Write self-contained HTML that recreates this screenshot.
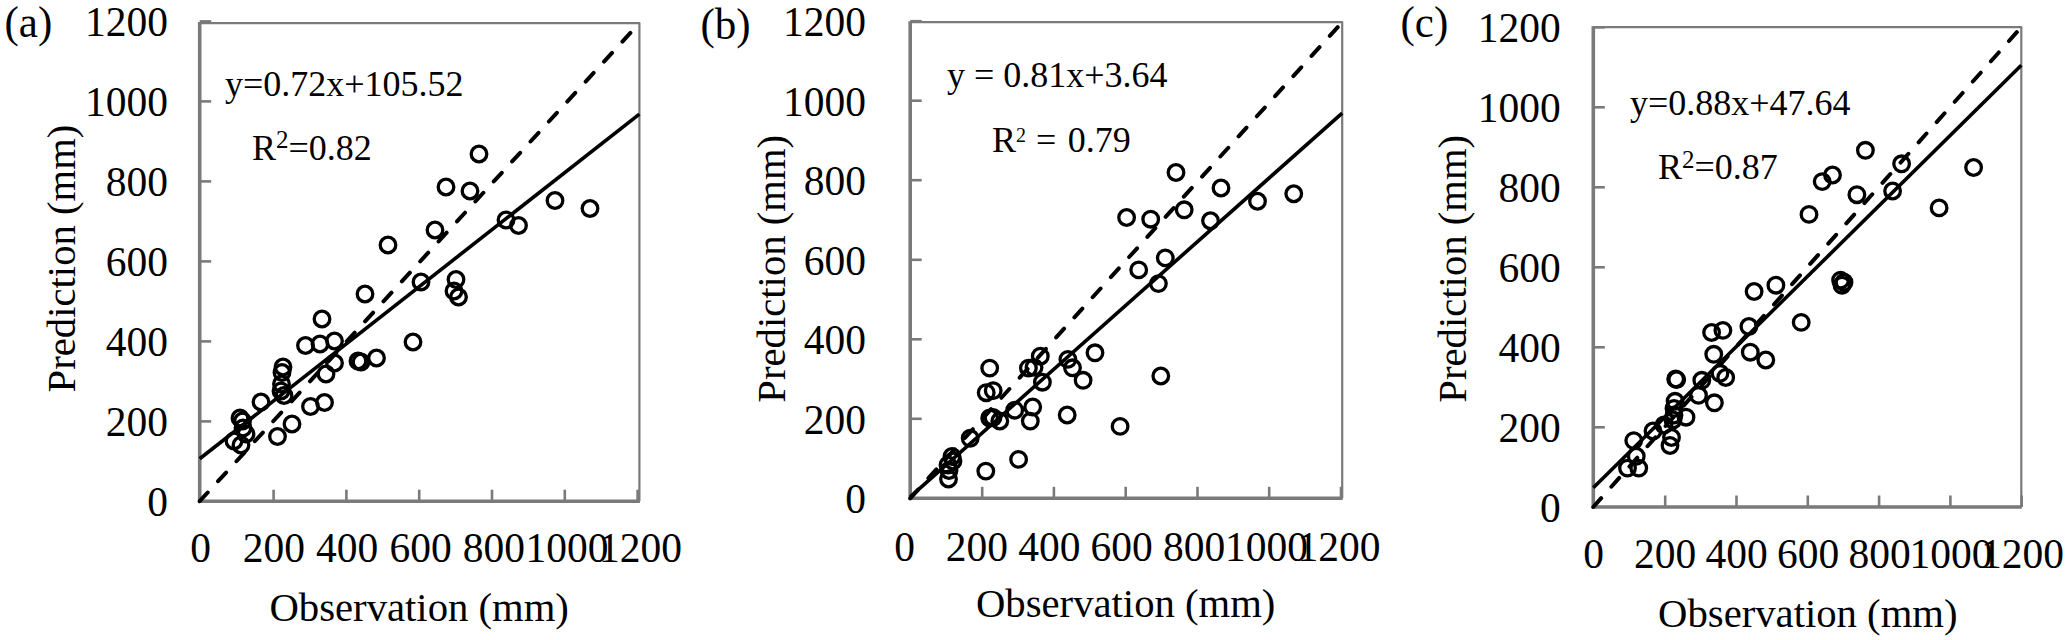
<!DOCTYPE html><html><head><meta charset="utf-8"><style>html,body{margin:0;padding:0;background:#fff;}svg{display:block;}text{font-family:"Liberation Serif",serif;fill:#000;}</style></head><body>
<svg width="2067" height="640" viewBox="0 0 2067 640">
<rect width="2067" height="640" fill="#fff"/>
<g><path d="M199.7 23.1H639.4V501.2" fill="none" stroke="#7a7a7a" stroke-width="2.2" stroke-linejoin="round"/><line x1="199.7" y1="421.4" x2="211.2" y2="421.4" stroke="#7a7a7a" stroke-width="2.6"/><line x1="273.6" y1="501.2" x2="273.6" y2="489.7" stroke="#7a7a7a" stroke-width="2.6"/><line x1="199.7" y1="341.4" x2="211.2" y2="341.4" stroke="#7a7a7a" stroke-width="2.6"/><line x1="346.4" y1="501.2" x2="346.4" y2="489.7" stroke="#7a7a7a" stroke-width="2.6"/><line x1="199.7" y1="261.4" x2="211.2" y2="261.4" stroke="#7a7a7a" stroke-width="2.6"/><line x1="419.2" y1="501.2" x2="419.2" y2="489.7" stroke="#7a7a7a" stroke-width="2.6"/><line x1="199.7" y1="181.4" x2="211.2" y2="181.4" stroke="#7a7a7a" stroke-width="2.6"/><line x1="492.0" y1="501.2" x2="492.0" y2="489.7" stroke="#7a7a7a" stroke-width="2.6"/><line x1="199.7" y1="101.4" x2="211.2" y2="101.4" stroke="#7a7a7a" stroke-width="2.6"/><line x1="564.8" y1="501.2" x2="564.8" y2="489.7" stroke="#7a7a7a" stroke-width="2.6"/><line x1="199.7" y1="21.4" x2="211.2" y2="21.4" stroke="#7a7a7a" stroke-width="2.6"/><line x1="637.6" y1="501.2" x2="637.6" y2="489.7" stroke="#7a7a7a" stroke-width="2.6"/><path d="M199.7 22.1V501.2H639.9" fill="none" stroke="#7a7a7a" stroke-width="3.6"/><line x1="199.7" y1="501.2" x2="639.4" y2="23.1" stroke="#000" stroke-width="4" stroke-dasharray="11.8 15.35" stroke-linecap="round"/><line x1="199.7" y1="458.75" x2="639.4" y2="114.1" stroke="#000" stroke-width="3.6"/><circle cx="555" cy="200.5" r="7.8" fill="none" stroke="#000" stroke-width="3.3"/><circle cx="590" cy="208.5" r="7.8" fill="none" stroke="#000" stroke-width="3.3"/><circle cx="479" cy="154" r="7.8" fill="none" stroke="#000" stroke-width="3.3"/><circle cx="446" cy="187" r="7.8" fill="none" stroke="#000" stroke-width="3.3"/><circle cx="470" cy="191" r="7.8" fill="none" stroke="#000" stroke-width="3.3"/><circle cx="435" cy="230" r="7.8" fill="none" stroke="#000" stroke-width="3.3"/><circle cx="506" cy="220" r="7.8" fill="none" stroke="#000" stroke-width="3.3"/><circle cx="518.5" cy="225.5" r="7.8" fill="none" stroke="#000" stroke-width="3.3"/><circle cx="388" cy="245" r="7.8" fill="none" stroke="#000" stroke-width="3.3"/><circle cx="365" cy="294" r="7.8" fill="none" stroke="#000" stroke-width="3.3"/><circle cx="421" cy="282" r="7.8" fill="none" stroke="#000" stroke-width="3.3"/><circle cx="456" cy="279.5" r="7.8" fill="none" stroke="#000" stroke-width="3.3"/><circle cx="454" cy="291" r="7.8" fill="none" stroke="#000" stroke-width="3.3"/><circle cx="458.5" cy="297" r="7.8" fill="none" stroke="#000" stroke-width="3.3"/><circle cx="413" cy="342" r="7.8" fill="none" stroke="#000" stroke-width="3.3"/><circle cx="376.5" cy="358" r="7.8" fill="none" stroke="#000" stroke-width="3.3"/><circle cx="358" cy="361" r="7.8" fill="none" stroke="#000" stroke-width="3.3"/><circle cx="361" cy="362" r="7.8" fill="none" stroke="#000" stroke-width="3.3"/><circle cx="334.5" cy="363" r="7.8" fill="none" stroke="#000" stroke-width="3.3"/><circle cx="326" cy="374" r="7.8" fill="none" stroke="#000" stroke-width="3.3"/><circle cx="322" cy="319" r="7.8" fill="none" stroke="#000" stroke-width="3.3"/><circle cx="305.5" cy="345.5" r="7.8" fill="none" stroke="#000" stroke-width="3.3"/><circle cx="320" cy="344" r="7.8" fill="none" stroke="#000" stroke-width="3.3"/><circle cx="334.5" cy="341" r="7.8" fill="none" stroke="#000" stroke-width="3.3"/><circle cx="261" cy="402" r="7.8" fill="none" stroke="#000" stroke-width="3.3"/><circle cx="283" cy="367" r="7.8" fill="none" stroke="#000" stroke-width="3.3"/><circle cx="282" cy="372.5" r="7.8" fill="none" stroke="#000" stroke-width="3.3"/><circle cx="281.5" cy="384" r="7.8" fill="none" stroke="#000" stroke-width="3.3"/><circle cx="281" cy="391" r="7.8" fill="none" stroke="#000" stroke-width="3.3"/><circle cx="284" cy="395.5" r="7.8" fill="none" stroke="#000" stroke-width="3.3"/><circle cx="240" cy="418" r="7.8" fill="none" stroke="#000" stroke-width="3.3"/><circle cx="242.5" cy="421" r="7.8" fill="none" stroke="#000" stroke-width="3.3"/><circle cx="243" cy="428" r="7.8" fill="none" stroke="#000" stroke-width="3.3"/><circle cx="246" cy="434" r="7.8" fill="none" stroke="#000" stroke-width="3.3"/><circle cx="234" cy="441" r="7.8" fill="none" stroke="#000" stroke-width="3.3"/><circle cx="241" cy="445" r="7.8" fill="none" stroke="#000" stroke-width="3.3"/><circle cx="277.5" cy="436.5" r="7.8" fill="none" stroke="#000" stroke-width="3.3"/><circle cx="292" cy="424" r="7.8" fill="none" stroke="#000" stroke-width="3.3"/><circle cx="310.5" cy="406.5" r="7.8" fill="none" stroke="#000" stroke-width="3.3"/><circle cx="324.5" cy="402.5" r="7.8" fill="none" stroke="#000" stroke-width="3.3"/><text transform="translate(168.0,516.4) scale(1.0,1.035)" font-size="41.5" text-anchor="end">0</text><text transform="translate(168.0,436.4) scale(1.0,1.035)" font-size="41.5" text-anchor="end">200</text><text transform="translate(168.0,356.4) scale(1.0,1.035)" font-size="41.5" text-anchor="end">400</text><text transform="translate(168.0,276.4) scale(1.0,1.035)" font-size="41.5" text-anchor="end">600</text><text transform="translate(168.0,196.4) scale(1.0,1.035)" font-size="41.5" text-anchor="end">800</text><text transform="translate(168.0,116.4) scale(1.0,1.035)" font-size="41.5" text-anchor="end">1000</text><text transform="translate(168.0,36.4) scale(1.0,1.035)" font-size="41.5" text-anchor="end">1200</text><text transform="translate(200.6,562.2) scale(1.0,1.035)" font-size="41.5" text-anchor="middle">0</text><text transform="translate(273.9,562.2) scale(1.0,1.035)" font-size="41.5" text-anchor="middle">200</text><text transform="translate(347.2,562.2) scale(1.0,1.035)" font-size="41.5" text-anchor="middle">400</text><text transform="translate(420.5,562.2) scale(1.0,1.035)" font-size="41.5" text-anchor="middle">600</text><text transform="translate(493.8,562.2) scale(1.0,1.035)" font-size="41.5" text-anchor="middle">800</text><text transform="translate(567.1,562.2) scale(1.0,1.035)" font-size="41.5" text-anchor="middle">1000</text><text transform="translate(640.4,562.2) scale(1.0,1.035)" font-size="41.5" text-anchor="middle">1200</text><text transform="translate(4.5,36.5) scale(1.0,1.03)" font-size="43">(a)</text><text transform="translate(75,258.5) rotate(-90)" font-size="40.7" text-anchor="middle">Prediction (mm)</text><text transform="translate(419.2,620.5) scale(1.0,1.0)" font-size="40.7" text-anchor="middle">Observation (mm)</text><text transform="translate(225.0,96.3) scale(1.0,1.0)" font-size="36">y=0.72x+105.52</text><text transform="translate(252.0,159.7) scale(1.0,1.0)" font-size="36">R<tspan font-size="25" dy="-11.6">2</tspan><tspan dy="11.6">=</tspan>0.82</text></g>
<g><path d="M910.2 22.2H1342.2V498.3" fill="none" stroke="#7a7a7a" stroke-width="2.2" stroke-linejoin="round"/><line x1="910.2" y1="418.8" x2="921.7" y2="418.8" stroke="#7a7a7a" stroke-width="2.6"/><line x1="982.2" y1="498.3" x2="982.2" y2="486.8" stroke="#7a7a7a" stroke-width="2.6"/><line x1="910.2" y1="339.3" x2="921.7" y2="339.3" stroke="#7a7a7a" stroke-width="2.6"/><line x1="1053.9" y1="498.3" x2="1053.9" y2="486.8" stroke="#7a7a7a" stroke-width="2.6"/><line x1="910.2" y1="259.8" x2="921.7" y2="259.8" stroke="#7a7a7a" stroke-width="2.6"/><line x1="1125.7" y1="498.3" x2="1125.7" y2="486.8" stroke="#7a7a7a" stroke-width="2.6"/><line x1="910.2" y1="180.2" x2="921.7" y2="180.2" stroke="#7a7a7a" stroke-width="2.6"/><line x1="1197.5" y1="498.3" x2="1197.5" y2="486.8" stroke="#7a7a7a" stroke-width="2.6"/><line x1="910.2" y1="100.7" x2="921.7" y2="100.7" stroke="#7a7a7a" stroke-width="2.6"/><line x1="1269.2" y1="498.3" x2="1269.2" y2="486.8" stroke="#7a7a7a" stroke-width="2.6"/><line x1="910.2" y1="21.2" x2="921.7" y2="21.2" stroke="#7a7a7a" stroke-width="2.6"/><line x1="1341.0" y1="498.3" x2="1341.0" y2="486.8" stroke="#7a7a7a" stroke-width="2.6"/><path d="M910.2 21.2V498.3H1342.7" fill="none" stroke="#7a7a7a" stroke-width="3.6"/><line x1="910.2" y1="498.3" x2="1342.2" y2="22.2" stroke="#000" stroke-width="4" stroke-dasharray="11.8 15.35" stroke-linecap="round"/><line x1="910.2" y1="496.9" x2="1342.2" y2="113.1" stroke="#000" stroke-width="3.6"/><circle cx="1176" cy="172.5" r="7.8" fill="none" stroke="#000" stroke-width="3.3"/><circle cx="1221" cy="188" r="7.8" fill="none" stroke="#000" stroke-width="3.3"/><circle cx="1293.75" cy="193.75" r="7.8" fill="none" stroke="#000" stroke-width="3.3"/><circle cx="1257.5" cy="201.25" r="7.8" fill="none" stroke="#000" stroke-width="3.3"/><circle cx="1126.6" cy="217.5" r="7.8" fill="none" stroke="#000" stroke-width="3.3"/><circle cx="1150.7" cy="219.2" r="7.8" fill="none" stroke="#000" stroke-width="3.3"/><circle cx="1184.2" cy="209.8" r="7.8" fill="none" stroke="#000" stroke-width="3.3"/><circle cx="1210.5" cy="220.75" r="7.8" fill="none" stroke="#000" stroke-width="3.3"/><circle cx="1165.3" cy="257.9" r="7.8" fill="none" stroke="#000" stroke-width="3.3"/><circle cx="1138.7" cy="269.9" r="7.8" fill="none" stroke="#000" stroke-width="3.3"/><circle cx="1158.4" cy="283.6" r="7.8" fill="none" stroke="#000" stroke-width="3.3"/><circle cx="1095" cy="352.8" r="7.8" fill="none" stroke="#000" stroke-width="3.3"/><circle cx="1067.9" cy="359.4" r="7.8" fill="none" stroke="#000" stroke-width="3.3"/><circle cx="1072.5" cy="367.8" r="7.8" fill="none" stroke="#000" stroke-width="3.3"/><circle cx="1083.1" cy="380.3" r="7.8" fill="none" stroke="#000" stroke-width="3.3"/><circle cx="1040.3" cy="356.2" r="7.8" fill="none" stroke="#000" stroke-width="3.3"/><circle cx="1028.4" cy="368.1" r="7.8" fill="none" stroke="#000" stroke-width="3.3"/><circle cx="1034" cy="367.4" r="7.8" fill="none" stroke="#000" stroke-width="3.3"/><circle cx="1042.4" cy="382.2" r="7.8" fill="none" stroke="#000" stroke-width="3.3"/><circle cx="989.7" cy="368.1" r="7.8" fill="none" stroke="#000" stroke-width="3.3"/><circle cx="986.2" cy="392.7" r="7.8" fill="none" stroke="#000" stroke-width="3.3"/><circle cx="993.2" cy="390.6" r="7.8" fill="none" stroke="#000" stroke-width="3.3"/><circle cx="1160.8" cy="376" r="7.8" fill="none" stroke="#000" stroke-width="3.3"/><circle cx="989.7" cy="418" r="7.8" fill="none" stroke="#000" stroke-width="3.3"/><circle cx="999.8" cy="421" r="7.8" fill="none" stroke="#000" stroke-width="3.3"/><circle cx="1014.7" cy="410.2" r="7.8" fill="none" stroke="#000" stroke-width="3.3"/><circle cx="1032.7" cy="407" r="7.8" fill="none" stroke="#000" stroke-width="3.3"/><circle cx="1030.3" cy="421.1" r="7.8" fill="none" stroke="#000" stroke-width="3.3"/><circle cx="1067.2" cy="415" r="7.8" fill="none" stroke="#000" stroke-width="3.3"/><circle cx="1120.1" cy="426.4" r="7.8" fill="none" stroke="#000" stroke-width="3.3"/><circle cx="970.2" cy="438.3" r="7.8" fill="none" stroke="#000" stroke-width="3.3"/><circle cx="952" cy="456.5" r="7.8" fill="none" stroke="#000" stroke-width="3.3"/><circle cx="953" cy="461" r="7.8" fill="none" stroke="#000" stroke-width="3.3"/><circle cx="948" cy="465" r="7.8" fill="none" stroke="#000" stroke-width="3.3"/><circle cx="949" cy="470.5" r="7.8" fill="none" stroke="#000" stroke-width="3.3"/><circle cx="948.5" cy="479" r="7.8" fill="none" stroke="#000" stroke-width="3.3"/><circle cx="993" cy="417.5" r="7.8" fill="none" stroke="#000" stroke-width="3.3"/><circle cx="985.8" cy="471.1" r="7.8" fill="none" stroke="#000" stroke-width="3.3"/><circle cx="1018.6" cy="459.4" r="7.8" fill="none" stroke="#000" stroke-width="3.3"/><text transform="translate(866.0,513.3) scale(1.0,1.035)" font-size="41.5" text-anchor="end">0</text><text transform="translate(866.0,433.8) scale(1.0,1.035)" font-size="41.5" text-anchor="end">200</text><text transform="translate(866.0,354.3) scale(1.0,1.035)" font-size="41.5" text-anchor="end">400</text><text transform="translate(866.0,274.8) scale(1.0,1.035)" font-size="41.5" text-anchor="end">600</text><text transform="translate(866.0,195.2) scale(1.0,1.035)" font-size="41.5" text-anchor="end">800</text><text transform="translate(866.0,115.7) scale(1.0,1.035)" font-size="41.5" text-anchor="end">1000</text><text transform="translate(866.0,36.2) scale(1.0,1.035)" font-size="41.5" text-anchor="end">1200</text><text transform="translate(904.5,561.0) scale(1.0,1.035)" font-size="41.5" text-anchor="middle">0</text><text transform="translate(976.9,561.0) scale(1.0,1.035)" font-size="41.5" text-anchor="middle">200</text><text transform="translate(1049.3,561.0) scale(1.0,1.035)" font-size="41.5" text-anchor="middle">400</text><text transform="translate(1121.7,561.0) scale(1.0,1.035)" font-size="41.5" text-anchor="middle">600</text><text transform="translate(1194.1,561.0) scale(1.0,1.035)" font-size="41.5" text-anchor="middle">800</text><text transform="translate(1266.5,561.0) scale(1.0,1.035)" font-size="41.5" text-anchor="middle">1000</text><text transform="translate(1338.9,561.0) scale(1.0,1.035)" font-size="41.5" text-anchor="middle">1200</text><text transform="translate(700.5,38.5) scale(1.0,1.03)" font-size="43">(b)</text><text transform="translate(785.3,268.75) rotate(-90)" font-size="40.7" text-anchor="middle">Prediction (mm)</text><text transform="translate(1125.7,616.5) scale(1.0,1.0)" font-size="40.7" text-anchor="middle">Observation (mm)</text><text transform="translate(947.0,87.3) scale(1.0,1.0)" font-size="36">y = 0.81x+3.64</text><text transform="translate(992.0,151.6) scale(1.0,1.0)" font-size="36">R<tspan font-size="20" dy="-9.8">2</tspan><tspan dy="9.8" dx="1"> = </tspan><tspan dx="2.5">0.79</tspan></text></g>
<g><path d="M1593.3 27.2H2021.3V507.0" fill="none" stroke="#7a7a7a" stroke-width="2.2" stroke-linejoin="round"/><line x1="1593.3" y1="427.3" x2="1604.8" y2="427.3" stroke="#7a7a7a" stroke-width="2.6"/><line x1="1665.2" y1="507.0" x2="1665.2" y2="495.5" stroke="#7a7a7a" stroke-width="2.6"/><line x1="1593.3" y1="347.3" x2="1604.8" y2="347.3" stroke="#7a7a7a" stroke-width="2.6"/><line x1="1736.5" y1="507.0" x2="1736.5" y2="495.5" stroke="#7a7a7a" stroke-width="2.6"/><line x1="1593.3" y1="267.3" x2="1604.8" y2="267.3" stroke="#7a7a7a" stroke-width="2.6"/><line x1="1807.8" y1="507.0" x2="1807.8" y2="495.5" stroke="#7a7a7a" stroke-width="2.6"/><line x1="1593.3" y1="187.3" x2="1604.8" y2="187.3" stroke="#7a7a7a" stroke-width="2.6"/><line x1="1879.1" y1="507.0" x2="1879.1" y2="495.5" stroke="#7a7a7a" stroke-width="2.6"/><line x1="1593.3" y1="107.3" x2="1604.8" y2="107.3" stroke="#7a7a7a" stroke-width="2.6"/><line x1="1950.4" y1="507.0" x2="1950.4" y2="495.5" stroke="#7a7a7a" stroke-width="2.6"/><line x1="1593.3" y1="27.3" x2="1604.8" y2="27.3" stroke="#7a7a7a" stroke-width="2.6"/><line x1="2021.7" y1="507.0" x2="2021.7" y2="495.5" stroke="#7a7a7a" stroke-width="2.6"/><path d="M1593.3 26.2V507.0H2021.8" fill="none" stroke="#7a7a7a" stroke-width="3.6"/><line x1="1593.3" y1="507.0" x2="2021.3" y2="27.2" stroke="#000" stroke-width="4" stroke-dasharray="11.8 15.35" stroke-linecap="round"/><line x1="1593.3" y1="487.8" x2="2021.3" y2="65.3" stroke="#000" stroke-width="3.6"/><circle cx="1973.6" cy="167.5" r="7.8" fill="none" stroke="#000" stroke-width="3.3"/><circle cx="1865.4" cy="150.3" r="7.8" fill="none" stroke="#000" stroke-width="3.3"/><circle cx="1901.6" cy="163.8" r="7.8" fill="none" stroke="#000" stroke-width="3.3"/><circle cx="1822.2" cy="181.6" r="7.8" fill="none" stroke="#000" stroke-width="3.3"/><circle cx="1832.5" cy="175" r="7.8" fill="none" stroke="#000" stroke-width="3.3"/><circle cx="1856.9" cy="194.7" r="7.8" fill="none" stroke="#000" stroke-width="3.3"/><circle cx="1892.6" cy="191" r="7.8" fill="none" stroke="#000" stroke-width="3.3"/><circle cx="1939.1" cy="207.9" r="7.8" fill="none" stroke="#000" stroke-width="3.3"/><circle cx="1809" cy="214.4" r="7.8" fill="none" stroke="#000" stroke-width="3.3"/><circle cx="1754.1" cy="291.5" r="7.8" fill="none" stroke="#000" stroke-width="3.3"/><circle cx="1775.9" cy="285.2" r="7.8" fill="none" stroke="#000" stroke-width="3.3"/><circle cx="1801.2" cy="322.4" r="7.8" fill="none" stroke="#000" stroke-width="3.3"/><circle cx="1748.9" cy="326.5" r="7.8" fill="none" stroke="#000" stroke-width="3.3"/><circle cx="1840.6" cy="280.2" r="7.8" fill="none" stroke="#000" stroke-width="3.3"/><circle cx="1844" cy="282.3" r="7.8" fill="none" stroke="#000" stroke-width="3.3"/><circle cx="1842" cy="285.2" r="7.8" fill="none" stroke="#000" stroke-width="3.3"/><circle cx="1711.6" cy="332.5" r="7.8" fill="none" stroke="#000" stroke-width="3.3"/><circle cx="1722.9" cy="330.4" r="7.8" fill="none" stroke="#000" stroke-width="3.3"/><circle cx="1713.75" cy="354.3" r="7.8" fill="none" stroke="#000" stroke-width="3.3"/><circle cx="1750.3" cy="352.2" r="7.8" fill="none" stroke="#000" stroke-width="3.3"/><circle cx="1765.8" cy="360" r="7.8" fill="none" stroke="#000" stroke-width="3.3"/><circle cx="1720" cy="373.3" r="7.8" fill="none" stroke="#000" stroke-width="3.3"/><circle cx="1725.7" cy="377.5" r="7.8" fill="none" stroke="#000" stroke-width="3.3"/><circle cx="1701.8" cy="380.3" r="7.8" fill="none" stroke="#000" stroke-width="3.3"/><circle cx="1675.7" cy="379" r="7.8" fill="none" stroke="#000" stroke-width="3.3"/><circle cx="1676.7" cy="379.6" r="7.8" fill="none" stroke="#000" stroke-width="3.3"/><circle cx="1698.5" cy="395.3" r="7.8" fill="none" stroke="#000" stroke-width="3.3"/><circle cx="1714.4" cy="402.8" r="7.8" fill="none" stroke="#000" stroke-width="3.3"/><circle cx="1675.1" cy="401.3" r="7.8" fill="none" stroke="#000" stroke-width="3.3"/><circle cx="1674" cy="408.4" r="7.8" fill="none" stroke="#000" stroke-width="3.3"/><circle cx="1674" cy="415" r="7.8" fill="none" stroke="#000" stroke-width="3.3"/><circle cx="1686" cy="417.2" r="7.8" fill="none" stroke="#000" stroke-width="3.3"/><circle cx="1671.5" cy="437.5" r="7.8" fill="none" stroke="#000" stroke-width="3.3"/><circle cx="1670" cy="445.5" r="7.8" fill="none" stroke="#000" stroke-width="3.3"/><circle cx="1673" cy="420" r="7.8" fill="none" stroke="#000" stroke-width="3.3"/><circle cx="1664" cy="425" r="7.8" fill="none" stroke="#000" stroke-width="3.3"/><circle cx="1653" cy="431" r="7.8" fill="none" stroke="#000" stroke-width="3.3"/><circle cx="1633.75" cy="440.6" r="7.8" fill="none" stroke="#000" stroke-width="3.3"/><circle cx="1636.25" cy="456.25" r="7.8" fill="none" stroke="#000" stroke-width="3.3"/><circle cx="1627.5" cy="468.1" r="7.8" fill="none" stroke="#000" stroke-width="3.3"/><circle cx="1638.75" cy="468.1" r="7.8" fill="none" stroke="#000" stroke-width="3.3"/><text transform="translate(1560.7,522.3) scale(1.0,1.035)" font-size="41.5" text-anchor="end">0</text><text transform="translate(1560.7,442.3) scale(1.0,1.035)" font-size="41.5" text-anchor="end">200</text><text transform="translate(1560.7,362.3) scale(1.0,1.035)" font-size="41.5" text-anchor="end">400</text><text transform="translate(1560.7,282.3) scale(1.0,1.035)" font-size="41.5" text-anchor="end">600</text><text transform="translate(1560.7,202.3) scale(1.0,1.035)" font-size="41.5" text-anchor="end">800</text><text transform="translate(1560.7,122.3) scale(1.0,1.035)" font-size="41.5" text-anchor="end">1000</text><text transform="translate(1560.7,42.3) scale(1.0,1.035)" font-size="41.5" text-anchor="end">1200</text><text transform="translate(1593.6,568.0) scale(1.0,1.035)" font-size="41.5" text-anchor="middle">0</text><text transform="translate(1665.1,568.0) scale(1.0,1.035)" font-size="41.5" text-anchor="middle">200</text><text transform="translate(1736.6,568.0) scale(1.0,1.035)" font-size="41.5" text-anchor="middle">400</text><text transform="translate(1808.1,568.0) scale(1.0,1.035)" font-size="41.5" text-anchor="middle">600</text><text transform="translate(1879.6,568.0) scale(1.0,1.035)" font-size="41.5" text-anchor="middle">800</text><text transform="translate(1951.1,568.0) scale(1.0,1.035)" font-size="41.5" text-anchor="middle">1000</text><text transform="translate(2022.6,568.0) scale(1.0,1.035)" font-size="41.5" text-anchor="middle">1200</text><text transform="translate(1400.5,36.5) scale(1.0,1.03)" font-size="43">(c)</text><text transform="translate(1466,268.75) rotate(-90)" font-size="40.7" text-anchor="middle">Prediction (mm)</text><text transform="translate(1807.8,626.5) scale(1.0,1.0)" font-size="40.7" text-anchor="middle">Observation (mm)</text><text transform="translate(1630.0,115.3) scale(1.0,0.99)" font-size="36">y=0.88x+47.64</text><text transform="translate(1658.0,179.3) scale(1.0,1.0)" font-size="36">R<tspan font-size="25" dy="-11.6">2</tspan><tspan dy="11.6">=</tspan>0.87</text></g>
</svg></body></html>
